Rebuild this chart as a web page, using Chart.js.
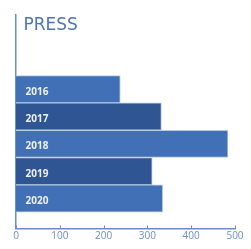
<!DOCTYPE html>
<html>
<head>
<meta charset="utf-8">
<script src="https://cdn.jsdelivr.net/npm/chart.js@4.4.1/dist/chart.umd.min.js"></script>
<style>
  html, body { margin: 0; padding: 0; background: #fff; }
  #wrap { width: 251px; height: 249px; }
</style>
</head>
<body>
<div id="wrap"><canvas id="pressChart"></canvas></div>
<script>
const chartTitle = "PRESS";
const years = ["2016", "2017", "2018", "2019", "2020"];
const pressCounts = [238, 332, 484, 311, 335];
const barColors = ["#4270b6", "#2f5592", "#4270b6", "#2f5592", "#4270b6"];
const xTicks = [0, 100, 200, 300, 400, 500];

const axisColor = "#6a8cc4";

// title + year labels + upward tick marks
const pressDecor = {
  id: "pressDecor",
  afterDatasetsDraw(chart) {
    const ctx = chart.ctx;
    const area = chart.chartArea;
    const meta = chart.getDatasetMeta(0);
    ctx.save();
    ctx.fillStyle = "#eef1f8";
    ctx.font = "bold 10px 'Open Sans'";
    ctx.textBaseline = "middle";
    meta.data.forEach((bar, i) => {
      ctx.fillText(years[i], area.left + 9.5, bar.y + 2.5);
    });
    ctx.restore();
  },
  afterDraw(chart) {
    const ctx = chart.ctx;
    const area = chart.chartArea;
    const xs = chart.scales.x;
    ctx.save();
    ctx.fillStyle = "#4e74b8";
    ctx.font = "17px 'DejaVu Sans'";
    ctx.textBaseline = "alphabetic";
    ctx.fillText(chartTitle, area.left + 7.5, 29.5);
    ctx.strokeStyle = axisColor;
    ctx.lineWidth = 1;
    xTicks.forEach(t => {
      const px = Math.round(xs.getPixelForValue(t)) + 0.5;
      ctx.beginPath();
      ctx.moveTo(px, area.bottom);
      ctx.lineTo(px, area.bottom - 3);
      ctx.stroke();
    });
    ctx.restore();
  }
};

new Chart(document.getElementById("pressChart"), {
  type: "bar",
  data: {
    datasets: [{
      data: years.map((y, i) => ({ x: pressCounts[i], y: i })),
      backgroundColor: barColors,
      borderColor: "#b9cae6",
      borderWidth: 1,
      barPercentage: 1,
      categoryPercentage: 1
    }]
  },
  options: {
    indexAxis: "y",
    responsive: true,
    maintainAspectRatio: false,
    animation: false,
    layout: { padding: { top: 15, left: 16, right: 16, bottom: 4.5 } },
    plugins: { legend: { display: false }, tooltip: { enabled: false } },
    scales: {
      x: {
        min: 0,
        max: 500,
        afterBuildTicks: s => { s.ticks = xTicks.map(v => ({ value: v })); },
        grid: { display: false, drawTicks: false },
        border: { color: axisColor, width: 1.5 },
        ticks: { color: "#6b8dca", font: { size: 10, family: "'Open Sans'" }, padding: 2 }
      },
      y: {
        type: "linear",
        reverse: true,
        offset: false,
        min: -2.72,
        max: 5.1,
        afterBuildTicks: s => { s.ticks = years.map((y, i) => ({ value: i })); },
        grid: { display: false, drawTicks: false },
        border: { color: axisColor, width: 1.5 },
        ticks: { display: false }
      }
    }
  },
  plugins: [pressDecor]
});
</script>
</body>
</html>
